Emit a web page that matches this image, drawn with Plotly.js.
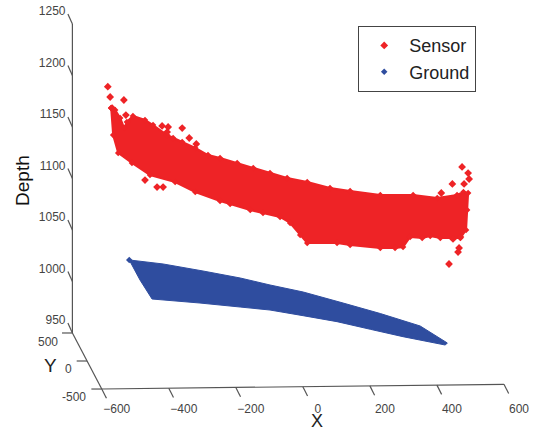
<!DOCTYPE html>
<html><head><meta charset="utf-8">
<script src="https://cdn.plot.ly/plotly-3.0.1.min.js"></script>
<style>html,body{margin:0;padding:0;background:#fff}</style></head>
<body><div id="chart" style="width:540px;height:433px"></div>
<script>
// Values
const xTicks = [-600,-400,-200,0,200,400,600];
const depthTicks = [950,1000,1050,1100,1150,1200,1250];
const yTicks = [500,0,-500];

// Outline of the dense Sensor cloud (upper edge left to right, then lower edge right to left)
const sensorEdgeX = [-572,-560,-545,-533,-525,-507,-471,-447,-405,-387,-360,-321,-283,-247,-196,-148,-98,-47,13,81,141,231,329,401,460,479,493,490,487,
  470,410,380,356,320,299,275,231,141,102,13,-8,-38,-68,-119,-157,-217,-247,-321,-381,-456,-510,-551,-566];
const sensorEdgeDepth = [1168.4,1166.5,1158.7,1149,1154.9,1160.7,1156.8,1151.9,1142.2,1139.3,1135.4,1129.6,1122.8,1119.9,1115,1110.2,1105.3,1100.5,1096.6,1090.8,1087.9,1084,1084,1081.1,1084,1086.9,1085.9,1069.4,1050,
  1042.2,1042.2,1044.2,1042.2,1043.2,1033.5,1032.5,1032.5,1035.4,1037.4,1037.4,1045.1,1056.8,1062.6,1066.5,1069.4,1075.2,1078.2,1086.9,1096.6,1103.4,1115,1124.8,1142.2];
// Isolated Sensor points
const sensorOutX = [-582,-575,-534,-569,-528,-420,-402,-360,-339,-318,-405,-471,-435,-417,475,493,496,446,481,413,448,470,466,463,436];
const sensorOutDepth = [1189.1,1179.1,1176.2,1168.4,1161.6,1151,1150,1149,1139.3,1133.5,1145.1,1098.5,1091.7,1091.7,1111.2,1105.3,1099.5,1094.7,1094.7,1085.9,1041.3,1043.2,1032.5,1028.6,1017];
// Outline of the Ground cloud
const groundEdgeX = [-518,-417,-298,-187,-98,1,120,231,350,431,425,299,201,102,1,-98,-187,-307,-450,-486];
const groundEdgeDepth = [1020.9,1017,1010.2,1003.4,996.6,989.8,979.1,968.9,956.8,940.3,938.3,946.4,953.6,961,966.8,972.3,975.2,979.1,983,1001.5];

const RED = '#ee2326', BLUE = '#2f4d9f', AXIS = '#555555', TXT = '#444444';
const FONT = 'Liberation Sans, Arial, sans-serif';

// Oblique box geometry, in axis units
const xLeft = -600, xRight = 600, depthBase = 950, floorDepth = 895.6, wallX = -687.6;
const floorAt = x => floorDepth + (x - xLeft) * 0.0038;
const yToX = y => wallX + (500 - y) / 1000 * (xLeft - wallX);
const yToDepth = y => depthBase + (500 - y) / 1000 * (floorDepth - depthBase);

const ax = [], ay = [];
const seg = (x0,y0,x1,y1) => { ax.push(x0,x1,null); ay.push(y0,y1,null); };
seg(wallX, depthTicks[depthTicks.length-1], wallX, depthBase);
seg(yToX(500), yToDepth(500), yToX(-500), yToDepth(-500));
seg(xLeft, floorAt(xLeft), xRight, floorAt(xRight));
depthTicks.forEach(d => seg(wallX, d, wallX-13.4, d+9.7));
xTicks.forEach(x => seg(x, floorAt(x), x+14, floorAt(x)-9));
yTicks.forEach(y => seg(yToX(y), yToDepth(y), yToX(y)-31, yToDepth(y)));

const closed = a => a.concat([a[0]]);
const traces = [
  {x:closed(sensorEdgeX), y:closed(sensorEdgeDepth), mode:'lines+markers', fill:'toself', fillcolor:RED,
   line:{color:RED,width:2}, marker:{symbol:'diamond',size:5,color:RED}, showlegend:false, hoverinfo:'skip'},
  {x:sensorOutX, y:sensorOutDepth, mode:'markers', name:'Sensor', marker:{symbol:'diamond',size:6,color:RED}},
  {x:closed(groundEdgeX), y:closed(groundEdgeDepth), mode:'lines', fill:'toself', fillcolor:BLUE,
   line:{color:BLUE,width:1}, showlegend:false, hoverinfo:'skip'},
  {x:[groundEdgeX[0]], y:[groundEdgeDepth[0]], mode:'markers', name:'Ground', marker:{symbol:'diamond',size:5,color:BLUE}},
  {x:ax, y:ay, mode:'lines', line:{color:AXIS,width:1.2}, showlegend:false, hoverinfo:'skip'}
];

const note = (text,x,y,size,color,extra) => Object.assign({text,x,y,xref:'x',yref:'y',showarrow:false,
  xanchor:'center',yanchor:'middle',font:{family:FONT,size,color}},extra||{});
const yLabelOffset = {'500':[-24,-9],'0':[-19,-8],'-500':[-28,-8]};
const annotations = yTicks.map(y => note(String(y), yToX(y), yToDepth(y), 12, TXT,
    {xshift:yLabelOffset[y][0], yshift:yLabelOffset[y][1]}))
  .concat([
    note('Y', yToX(0), yToDepth(0), 19, '#222222', {xshift:-37, yshift:-4}),
    note('X', 41, floorDepth, 18, '#222222', {yshift:-32}),
    note('Depth', wallX, 1098.5, 19, '#111111', {xshift:-50.5, textangle:-90})
  ]);

const layout = {
  width:540, height:433, margin:{l:0,r:0,t:0,b:0},
  paper_bgcolor:'#fff', plot_bgcolor:'#fff', font:{family:FONT,color:TXT,size:12},
  xaxis:{range:[-903.6,707.5], tickvals:xTicks, ticks:'', showgrid:false, zeroline:false, showline:false,
         anchor:'free', position:44/433, ticklabelshift:15, ticklabelstandoff:11, tickfont:{size:12,color:TXT}},
  yaxis:{range:[852.9,1273.3], tickvals:depthTicks, ticks:'', showgrid:false, zeroline:false, showline:false,
         anchor:'free', position:72.5/540, ticklabelshift:-13, ticklabelstandoff:7, tickfont:{size:12,color:TXT}},
  legend:{x:358/540,y:1-26/433,xanchor:'left',yanchor:'top',bordercolor:'#444',borderwidth:1.2,bgcolor:'#fff',
          font:{size:18,color:'#222'},tracegroupgap:6,itemwidth:40,entrywidth:66,entrywidthmode:'pixels'},
  annotations, showlegend:true
};
Plotly.newPlot('chart', traces, layout, {displayModeBar:false, staticPlot:true});
</script></body></html>
